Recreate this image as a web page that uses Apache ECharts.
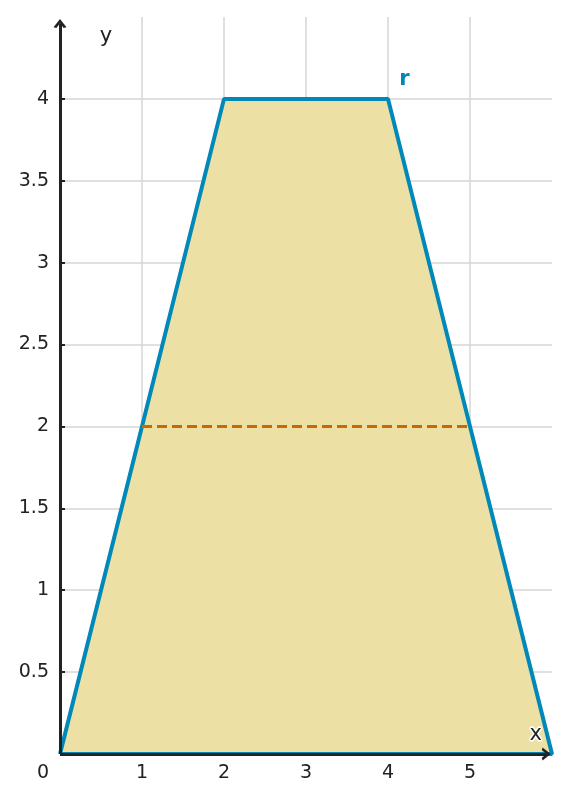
<!DOCTYPE html>
<html><head><meta charset="utf-8">
<script src="https://cdn.jsdelivr.net/npm/echarts@6/dist/echarts.min.js"></script>
<style>html,body{margin:0;padding:0;background:#fff}#c{width:569px;height:803px}</style>
</head><body><div id="c"></div>
<script>
const xTicks = [1, 2, 3, 4, 5];
const yTicks = [0.5, 1, 1.5, 2, 2.5, 3, 3.5, 4];
const trapezoid = [[0, 0], [2, 4], [4, 4], [6, 0], [0, 0]];
const midline = [[1, 2], [5, 2]];
const rLabel = [[4.2, 4.12]];
const xAxisEnd = 5.93, yAxisEnd = 4.46;
const FONT = 'DejaVu Sans';
const arrowPath = 'path://M0,10 L5,0 L10,10 L7.8,11 L5,5 L2.2,11 Z';

const chart = echarts.init(document.getElementById('c'));
chart.setOption({
  animation: false,
  grid: {left: 60, right: 17, top: 17, bottom: 49},
  xAxis: {
    type: 'value', min: 0, max: 6, interval: 1,
    axisLine: {show: false},
    axisTick: {show: true, inside: true, length: 4, customValues: xTicks, lineStyle: {color: '#222', width: 2}},
    axisLabel: {customValues: xTicks, color: '#222', fontFamily: FONT, fontSize: 19, margin: 10},
    splitLine: {show: true, lineStyle: {color: '#d6d6d6', width: 1.5}}
  },
  yAxis: {
    type: 'value', min: 0, max: 4.5, interval: 0.5,
    axisLine: {show: false},
    axisTick: {show: true, inside: true, length: 5, customValues: yTicks, lineStyle: {color: '#222', width: 2}},
    axisLabel: {customValues: yTicks, color: '#222', fontFamily: FONT, fontSize: 19, margin: 11},
    splitLine: {show: true, lineStyle: {color: '#d6d6d6', width: 1.5}}
  },
  series: [
    {
      type: 'line', data: [], z: 3,
      markLine: {
        silent: true, animation: false,
        symbol: ['none', arrowPath], symbolSize: [13, 9],
        label: {show: false},
        lineStyle: {color: '#222', width: 3, type: 'solid', opacity: 1},
        itemStyle: {color: '#222'},
        data: [
          [{coord: [0, 0]}, {coord: [0, yAxisEnd]}],
          [{coord: [0, 0]}, {coord: [xAxisEnd, 0]}]
        ]
      }
    },
    {
      type: 'line', data: trapezoid, z: 4, showSymbol: false, symbol: 'none',
      lineStyle: {color: '#0088b8', width: 4},
      areaStyle: {color: '#ede0a5', opacity: 1, origin: 'start'}
    },
    {
      type: 'line', data: midline, z: 5, showSymbol: false, symbol: 'none',
      lineStyle: {color: '#c86a00', width: 3, type: [10, 5]}
    },
    {
      type: 'scatter', z: 6, symbolSize: 0,
      itemStyle: {opacity: 1, color: '#222'},
      data: [
        {value: rLabel[0], label: {formatter: 'r', color: '#0088b8', fontWeight: 'bold', fontSize: 21}},
        {value: [0.56, 4.38], label: {formatter: 'y', color: '#222', fontSize: 21}},
        {value: [5.8, 0.116], label: {formatter: 'x', color: '#222', fontSize: 21, textBorderColor: '#fff', textBorderWidth: 3}},
        {value: [0, 0], label: {formatter: '0', color: '#222', fontSize: 19, offset: [-17, 19]}}
      ],
      label: {show: true, position: 'inside', fontFamily: FONT, opacity: 1}
    }
  ]
});
</script></body></html>
